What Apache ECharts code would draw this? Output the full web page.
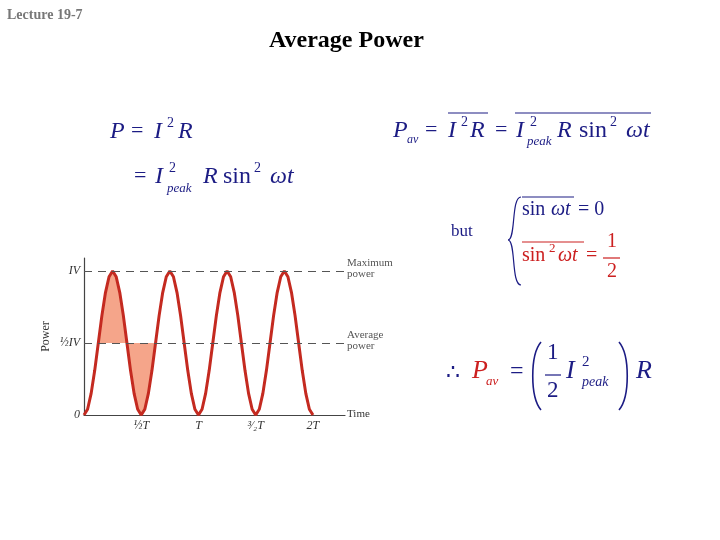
<!DOCTYPE html>
<html><head><meta charset="utf-8">
<script src="https://cdn.jsdelivr.net/npm/echarts@6/dist/echarts.min.js"></script>
<style>html,body{margin:0;padding:0;background:#fff}#c{width:720px;height:540px}</style>
</head><body><div id="c"></div>
<script>
// time in units of T, step 1/32
const timeStep = 1/32;
const powerValues = [0,.04,.15,.31,.5,.69,.85,.96,1,.96,.85,.69,.5,.31,.15,.04,
  0,.04,.15,.31,.5,.69,.85,.96,1,.96,.85,.69,.5,.31,.15,.04,
  0,.04,.15,.31,.5,.69,.85,.96,1,.96,.85,.69,.5,.31,.15,.04,
  0,.04,.15,.31,.5,.69,.85,.96,1,.96,.85,.69,.5,.31,.15,.04,0];
const shadeStart = 4, shadeEnd = 20;
const xTickValues = [0.5,1,1.5,2];
const xTickLabels = ['½T','T','³⁄₂T','2T'];
const yTickValues = [0,0.5,1];
const yTickLabels = ['0','½IV','IV'];
const maxPower = 1, avgPower = 0.5;

const curve = powerValues.map((v,i)=>[i*timeStep, v]);
const shade = curve.slice(shadeStart, shadeEnd+1);

const NAVY='#1c1c84', RED='#cc2020', SERIF='Liberation Serif';
const g=[];
function t(x,y,s,size,color,opt){opt=opt||{};
  g.push({type:'text',left:x,top:y,style:{text:s,fontSize:size,fill:color||NAVY,fontFamily:SERIF,
  fontStyle:opt.it?'italic':'normal',fontWeight:opt.b?'bold':'normal'}});}
function ln(x1,y1,x2,y2,c){g.push({type:'line',shape:{x1,y1,x2,y2},style:{stroke:c||NAVY,lineWidth:1.2}});}
function bz(x1,y1,cx1,cy1,cx2,cy2,x2,y2,w){g.push({type:'bezierCurve',shape:{x1,y1,cpx1:cx1,cpy1:cy1,cpx2:cx2,cpy2:cy2,x2,y2},style:{stroke:NAVY,fill:null,lineWidth:w||1.2}});}
t(7,8,'Lecture 19-7',14,'#777',{b:1});
t(269,29,'Average Power',24,'#000',{b:1});
t(110,120,'P',24,NAVY,{it:1}); t(131,120,'=',22); t(154,120,'I',24,NAVY,{it:1}); t(167,116,'2',14); t(178,120,'R',24,NAVY,{it:1});
t(134,165,'=',22); t(155,165,'I',24,NAVY,{it:1}); t(169,161,'2',14); t(167,182,'peak',13,NAVY,{it:1});
t(203,165,'R',24,NAVY,{it:1}); t(223,165,'sin',24); t(254,161,'2',14); t(270,165,'ωt',24,NAVY,{it:1});
t(393,119,'P',24,NAVY,{it:1}); t(407,134,'av',12,NAVY,{it:1}); t(425,119,'=',22); t(448,119,'I',24,NAVY,{it:1});
t(461,115,'2',14); t(470,119,'R',24,NAVY,{it:1}); t(495,119,'=',22); t(516,119,'I',24,NAVY,{it:1});
t(530,115,'2',14); t(527,135,'peak',13,NAVY,{it:1}); t(557,119,'R',24,NAVY,{it:1}); t(579,119,'sin',24);
t(610,115,'2',14); t(626,119,'ωt',24,NAVY,{it:1});
ln(448,113,488,113); ln(515,113,651,113);
t(451,223,'but',17);
bz(521,197,511,197,516,240,508,240); bz(508,240,516,240,511,285,521,285);
t(522,200,'sin',20); t(551,200,'ωt',20,NAVY,{it:1}); t(578,200,'= 0',20);
ln(522,197,574,197);
t(522,246,'sin',20,RED); t(549,242,'2',13,RED); t(558,246,'ωt',20,RED,{it:1}); t(586,246,'=',20,RED);
t(607,232,'1',20,RED); ln(603,258,620,258,RED); t(607,262,'2',20,RED);
ln(522,242,584,242,RED);
t(446,362,'∴',22); t(472,358,'P',26,RED,{it:1}); t(486,375,'av',13,RED,{it:1}); t(510,360,'=',24);
bz(541,342,530,355,530,397,541,410,1.6);
t(547,341,'1',23); ln(545,375,561,375); t(547,379,'2',23);
t(566,358,'I',26,NAVY,{it:1}); t(582,355,'2',15); t(582,375,'peak',14,NAVY,{it:1});
bz(619,342,630,355,630,397,619,410,1.6);
t(636,358,'R',26,NAVY,{it:1});
t(347,258,'Maximum\npower',11,'#555'); t(347,330,'Average\npower',11,'#555'); t(347,409,'Time',11,'#333');

const chart=echarts.init(document.getElementById('c'));
chart.setOption({
  animation:false,
  grid:{left:84,right:720-345,top:258,bottom:125},
  xAxis:{type:'value',min:0,max:2.28,splitLine:{show:false},axisTick:{show:false},
    axisLine:{lineStyle:{color:'#444',width:1.2}},
    axisLabel:{customValues:xTickValues,formatter:v=>xTickLabels[xTickValues.indexOf(v)]||'',
      fontFamily:SERIF,fontStyle:'italic',fontSize:12,color:'#333',margin:5}},
  yAxis:{type:'value',min:0,max:1.09,splitLine:{show:false},axisTick:{show:false},
    name:'Power',nameLocation:'middle',nameGap:32,nameRotate:90,nameTextStyle:{fontFamily:SERIF,fontSize:12,color:'#333'},
    axisLine:{show:true,lineStyle:{color:'#444',width:1.2}},
    axisLabel:{customValues:yTickValues,formatter:v=>yTickLabels[yTickValues.indexOf(v)]||'',
      fontFamily:SERIF,fontStyle:'italic',fontSize:12,color:'#333',margin:4}},
  series:[
    {type:'line',data:shade,smooth:false,showSymbol:false,lineStyle:{width:0},
      areaStyle:{origin:avgPower,color:'#f5a58a',opacity:1},z:1},
    {type:'line',data:curve,smooth:false,showSymbol:false,lineStyle:{color:'#c42a20',width:3},z:3,
      markLine:{silent:true,symbol:'none',label:{show:false},lineStyle:{type:[8,6],color:'#555',width:1.2},
        data:[{yAxis:maxPower},{yAxis:avgPower}]}}
  ],
  graphic:g
});
</script></body></html>
